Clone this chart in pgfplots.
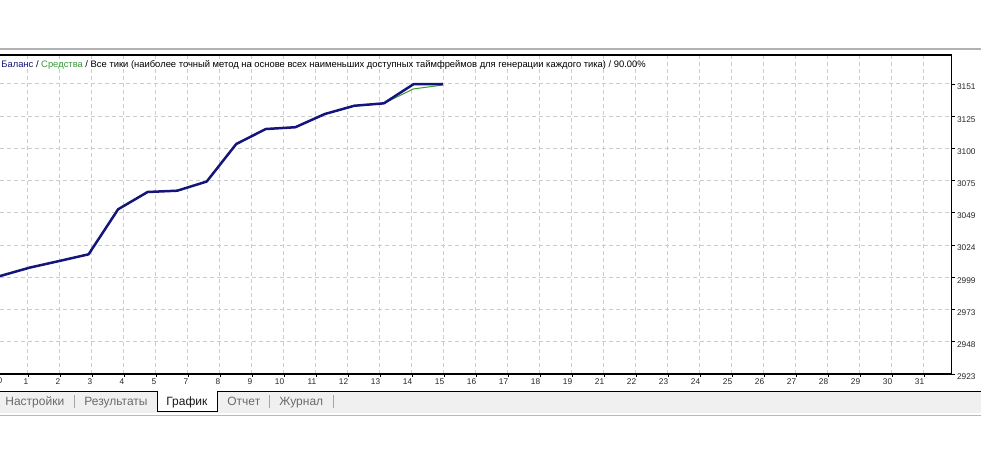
\documentclass[border=0pt]{standalone}
\usepackage{pgfplots}
\pgfplotsset{compat=1.18}
\usepackage{fontspec}
\setmainfont{Liberation Sans}

\definecolor{bal}{HTML}{14147A}
\definecolor{eq}{HTML}{3C9A3C}
\definecolor{gridc}{HTML}{CCCCCC}
\definecolor{tabtxt}{HTML}{6A6A6A}

% 1 px of the reference = 0.5pt
\newcommand{\tickfont}{\fontsize{4.15}{5}\selectfont}

\begin{document}
\begin{tikzpicture}[x=0.5pt,y=0.5pt]
\useasboundingbox (0,0) rectangle (981,-460);

% separator above the chart
\fill[black!30] (0,-48.5) rectangle (981,-50.5);

% tab bar
\fill[black!6] (0,-391) rectangle (981,-413);
\draw[black!28, line width=0.75pt] (0,-415.5) -- (981,-415.5);
\fill[white] (157,-391) rectangle (217,-411);
\draw[line width=0.5pt] (0,-391) -- (157,-391) -- (157,-411) -- (217,-411) -- (217,-391) -- (981,-391);
\begin{scope}[font=\fontsize{6}{7}\selectfont, inner sep=0pt]
  \node[anchor=base west, text=tabtxt] at (5,-405) {Настройки};
  \node[anchor=base west, text=tabtxt] at (84,-405) {Результаты};
  \node[anchor=base west, text=black!90] at (166,-405) {График};
  \node[anchor=base west, text=tabtxt] at (227,-405) {Отчет};
  \node[anchor=base west, text=tabtxt] at (279,-405) {Журнал};
\end{scope}
\foreach \s in {74,269,333} \draw[black!35, line width=0.5pt] (\s,-395) -- (\s,-408);

% grid, ticks and labels
\begin{axis}[
    at={(0pt,-187pt)}, anchor=south west,
    scale only axis, width=475.85pt, height=159.5pt,
    xmin=0.125, xmax=29.866,
    ymin=2923, ymax=3173.8,
    axis line style={draw=none},
    xtick pos=bottom, ytick pos=right,
    tick align=outside, major tick length=1.5pt,
    tick style={black, line width=0.4pt},
    xtick={1,...,29},
    xticklabels={1,2,3,4,5,7,8,9,10,11,12,13,14,15,16,17,18,19,21,22,23,24,25,26,27,28,29,30,31},
    ytick={2923,2948.333,2973.667,2999,3024.333,3049.667,3075,3100.333,3125.667,3151},
    yticklabels={2923,2948,2973,2999,3024,3049,3075,3100,3125,3151},
    x tick label style={anchor=north east, font=\tickfont, inner sep=0pt, xshift=0.3pt, yshift=-0.5pt, text=black!85},
    y tick label style={anchor=west, font=\tickfont, inner sep=0pt, xshift=1pt, yshift=-1.5pt, text=black!85},
    /pgf/number format/assume math mode=true,
    grid=major,
    grid style={gridc, line width=0.5pt, dash pattern=on 2pt off 1.5pt},
]
\end{axis}

% balance and equity, trade by trade
\begin{axis}[
    at={(0pt,-187pt)}, anchor=south west,
    scale only axis, width=475.85pt, height=159.5pt,
    xmin=0, xmax=32.23,
    ymin=2923, ymax=3173.8,
    hide axis,
]
\addplot[eq, line width=0.5pt] coordinates {
(0,3000.0) (1,3006.6) (2,3011.8) (3,3017.1) (4,3052.5) (5,3066.1) (6,3067.1) (7,3074.3)
(8,3103.8) (9,3115.6) (10,3117.0) (11,3127.4) (12,3133.9) (13,3135.8) (14,3147.1) (15,3150.2)
};
\addplot[bal, line width=1.25pt, line join=round] coordinates {
(0,3000.0) (1,3006.6) (2,3011.8) (3,3017.1) (4,3052.5) (5,3066.1) (6,3067.1) (7,3074.3)
(8,3103.8) (9,3115.6) (10,3117.0) (11,3127.4) (12,3133.9) (13,3135.8) (14,3150.8) (15,3151.0)
};
\end{axis}

% frame: top, right and bottom
\draw[black, line width=0.6pt] (0,-55) -- (951.7,-55) -- (951.7,-374) -- (0,-374);

% first x label, half cut by the left edge
\node[anchor=north, font=\tickfont, inner sep=0pt, text=black!85] at (0,-377.5) {0};

% header line
\node[anchor=west, inner sep=0pt, font=\fontsize{4.7}{6}\selectfont] at (1,-64.5)
  {{\color{bal}Баланс} / {\color{eq}Средства} / Все тики (наиболее точный метод на основе всех наименьших доступных таймфреймов для генерации каждого тика) / 90.00\%};
\end{tikzpicture}
\end{document}
